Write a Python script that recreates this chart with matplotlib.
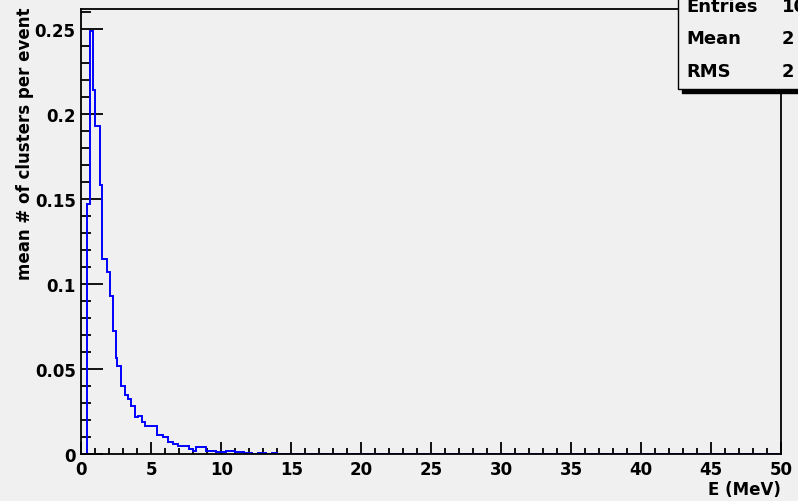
import matplotlib
matplotlib.use("Agg")
from matplotlib import pyplot as plt
from matplotlib.patches import Rectangle
from matplotlib.ticker import MultipleLocator

# histogram: bin edges (MeV) and mean clusters per event
edges = [0, 0.43, 0.6, 0.84, 1.01, 1.31, 1.48, 1.86, 2.03, 2.29, 2.46, 2.57,
         2.84, 3.12, 3.31, 3.52, 3.84, 4.03, 4.31, 4.55, 5.38, 5.86, 6.21,
         6.57, 6.9, 7.7, 8.0, 8.2, 8.9, 9.6, 10.3, 11.0, 11.6, 12.2, 12.6,
         13.2, 13.6, 14.0, 50]
values = [0, 0.147, 0.249, 0.214, 0.193, 0.158, 0.115, 0.107, 0.093, 0.0725,
          0.0563, 0.052, 0.0398, 0.0347, 0.0324, 0.028, 0.0216, 0.0225,
          0.0186, 0.0167, 0.0112, 0.0098, 0.0069, 0.0059, 0.0047, 0.003,
          0.002, 0.0043, 0.002, 0.0014, 0.002, 0.0012, 0.0005, 0, 0.0006, 0,
          0.0005, 0]

stat_names = ["Entries", "Mean", "RMS"]
stat_values = ["10", "2", "2"]

plt.rcParams['font.family'] = ['DejaVu Sans']
plt.rcParams['font.weight'] = 'bold'

W, H = 798, 502
bg = '#f0f0f0'
fig = plt.figure(figsize=(W / 100, H / 100), dpi=100, facecolor=bg)
ax = fig.add_axes([81.3 / W, (H - 455) / H, 700 / W, 445 / H])
ax.set_facecolor(bg)

ax.stairs(values, edges, color='#0000ff', linewidth=1.4, zorder=2)

ax.set_xlim(0, 50)
ax.set_ylim(0, 0.2618)
ax.xaxis.set_major_locator(MultipleLocator(5))
ax.xaxis.set_minor_locator(MultipleLocator(1))
ax.yaxis.set_minor_locator(MultipleLocator(0.01))
ax.set_yticks([0, 0.05, 0.1, 0.15, 0.2, 0.25])
ax.set_yticklabels(['0', '0.05', '0.1', '0.15', '0.2', '0.25'])
ax.tick_params(which='both', direction='in', color='black', width=1.3,
               labelsize=12)
ax.tick_params(axis='x', which='major', length=9, pad=4)
ax.tick_params(axis='x', which='minor', length=4.5)
ax.tick_params(axis='y', which='major', length=16, pad=4)
ax.tick_params(axis='y', which='minor', length=7.5)
for lab in ax.get_xticklabels() + ax.get_yticklabels():
    lab.set_fontweight('bold')
for sp in ax.spines.values():
    sp.set_linewidth(1.3)
    sp.set_zorder(3)

fig.text(781 / W, 1 - 490 / H, 'E (MeV)', ha='right', va='center',
         fontsize=12, fontweight='bold')
fig.text(25 / W, 1 - 8 / H, 'mean # of clusters per event', rotation=90,
         ha='center', va='top', fontsize=12, fontweight='bold')

# stats box in the top right corner, partly outside the canvas
fig.patches.append(Rectangle((682 / W, 1 - 94 / H), 130 / W, 100 / H,
                             transform=fig.transFigure, facecolor='black',
                             edgecolor='black', zorder=4))
fig.patches.append(Rectangle((678 / W, 1 - 90 / H), 130 / W, 100 / H,
                             transform=fig.transFigure, facecolor=bg,
                             edgecolor='black', linewidth=1.0, zorder=5))
for i, (name, val) in enumerate(zip(stat_names, stat_values)):
    y = 1 - (7 + 32.5 * i) / H
    fig.text(686 / W, y, name, ha='left', va='center', fontsize=13,
             fontweight='bold', zorder=6)
    fig.text(782 / W, y, val, ha='left', va='center', fontsize=13,
             fontweight='bold', zorder=6)

fig.savefig('out.png', dpi=100, facecolor=bg)
